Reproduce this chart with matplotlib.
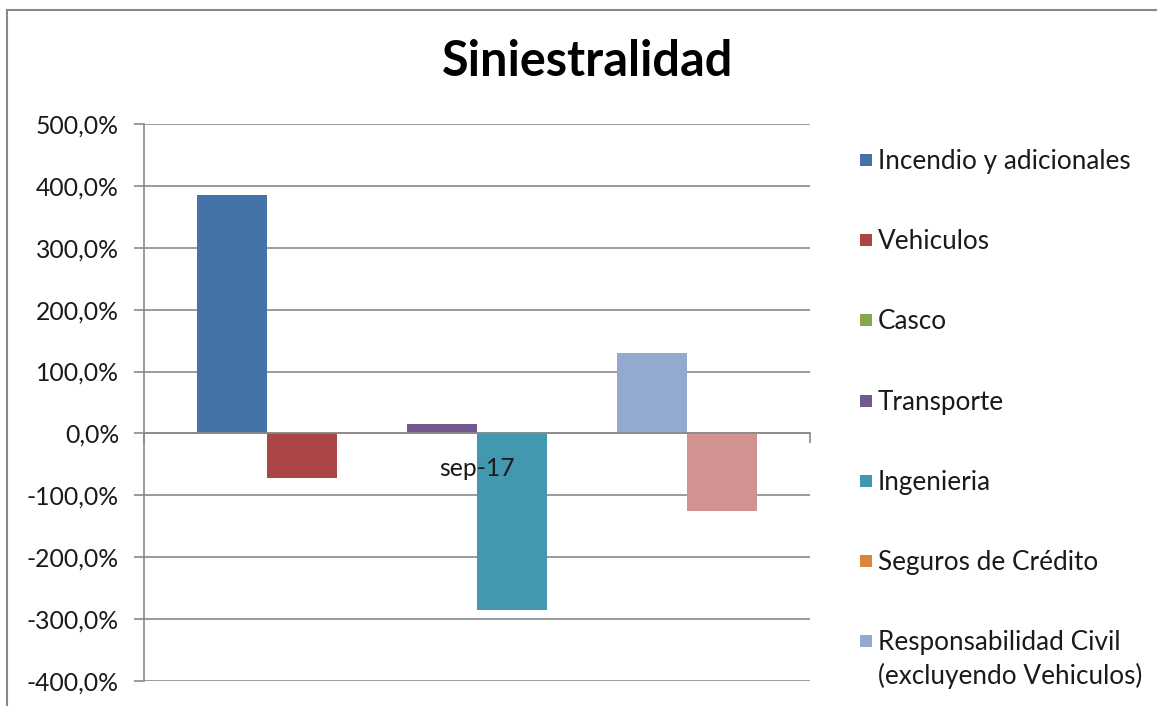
import matplotlib
matplotlib.use("Agg")
import matplotlib.pyplot as plt
from matplotlib.patches import Rectangle
from matplotlib.ticker import FuncFormatter

# ---------- DATA ----------
category = "sep-17"
series_names = [
    "Incendio y adicionales",
    "Vehiculos",
    "Casco",
    "Transporte",
    "Ingenieria",
    "Seguros de Crédito",
    "Responsabilidad Civil\n(excluyendo Vehiculos)",
    "Otros",
]
values = [385.0, -72.0, 0.0, 15.5, -286.0, 0.0, 130.5, -126.0]
colors = ["#4572A7", "#AA4643", "#89A54E", "#71588F",
          "#4198AF", "#DB843D", "#93A9CF", "#D19392"]
yticks = [-400, -300, -200, -100, 0, 100, 200, 300, 400, 500]

plt.rcParams['font.family'] = ['Lato', 'DejaVu Sans']

W, H = 1157, 706
fig = plt.figure(figsize=(W / 100, H / 100), dpi=100)
ax = fig.add_axes([144 / W, 1 - 681 / H, (810 - 144) / W, (681 - 124) / H])

# ---------- BARS ----------
n = len(values)
bw = 1.0 / (n + 1.5)
for i, v in enumerate(values):
    x = -0.5 + 0.75 * bw + (i + 0.5) * bw
    ax.bar(x, v, width=bw, color=colors[i], edgecolor='none',
           zorder=3, label=series_names[i])

ax.set_xlim(-0.5, 0.5)
ax.set_ylim(-400, 500)
ax.set_yticks(yticks)
ax.yaxis.set_major_formatter(FuncFormatter(lambda v, p: f"{v:.1f}%".replace(".", ",")))
ax.grid(axis='y', color='#8a8a8a', linewidth=1.2, zorder=0)

ax.spines['top'].set_visible(False)
ax.spines['right'].set_visible(False)
ax.spines['left'].set_color('#8a8a8a')
ax.spines['left'].set_linewidth(1.2)
ax.spines['bottom'].set_position(('data', 0))
ax.spines['bottom'].set_color('#8a8a8a')
ax.spines['bottom'].set_linewidth(1.2)
ax.spines['bottom'].set_zorder(4)

ax.tick_params(axis='y', length=7, width=1.2, color='#8a8a8a', pad=11,
               labelsize=17.8, labelcolor='#1a1a1a')
ax.set_xticks([])
ax.set_xticks([-0.5, 0.5], minor=True)
ax.tick_params(axis='x', which='minor', length=7, width=1.2, color='#8a8a8a')

# category label sits on top of the bars, like in Excel
ax.annotate(category, xy=(0, 0), xytext=(0, -35), textcoords='offset pixels',
            ha='center', va='center', fontsize=17.8, color='#1a1a1a', zorder=10)

# ---------- TITLE ----------
fig.text(588 / W, 1 - 62 / H, "Siniestralidad", ha='center', va='center',
         fontsize=35, fontweight='bold', color='black')

# ---------- LEGEND (last series cut off like the original) ----------
for i in range(7):
    yc = 160 + 80.2 * i
    fig.add_artist(Rectangle((860 / W, 1 - (yc + 6) / H), 12 / W, 12 / H,
                             transform=fig.transFigure, facecolor=colors[i],
                             edgecolor='none'))
    fig.text(878 / W, 1 - (yc - 11) / H, series_names[i], ha='left', va='top',
             fontsize=18.8, color='#1a1a1a', linespacing=1.35)

# ---------- FRAME ----------
fig.add_artist(plt.Line2D([7 / W, 7 / W], [0, 1 - 10 / H], color='#888888', lw=1.5))
fig.add_artist(plt.Line2D([7 / W, 1], [1 - 10 / H, 1 - 10 / H], color='#888888', lw=1.5))

fig.savefig("out.png", dpi=100)
